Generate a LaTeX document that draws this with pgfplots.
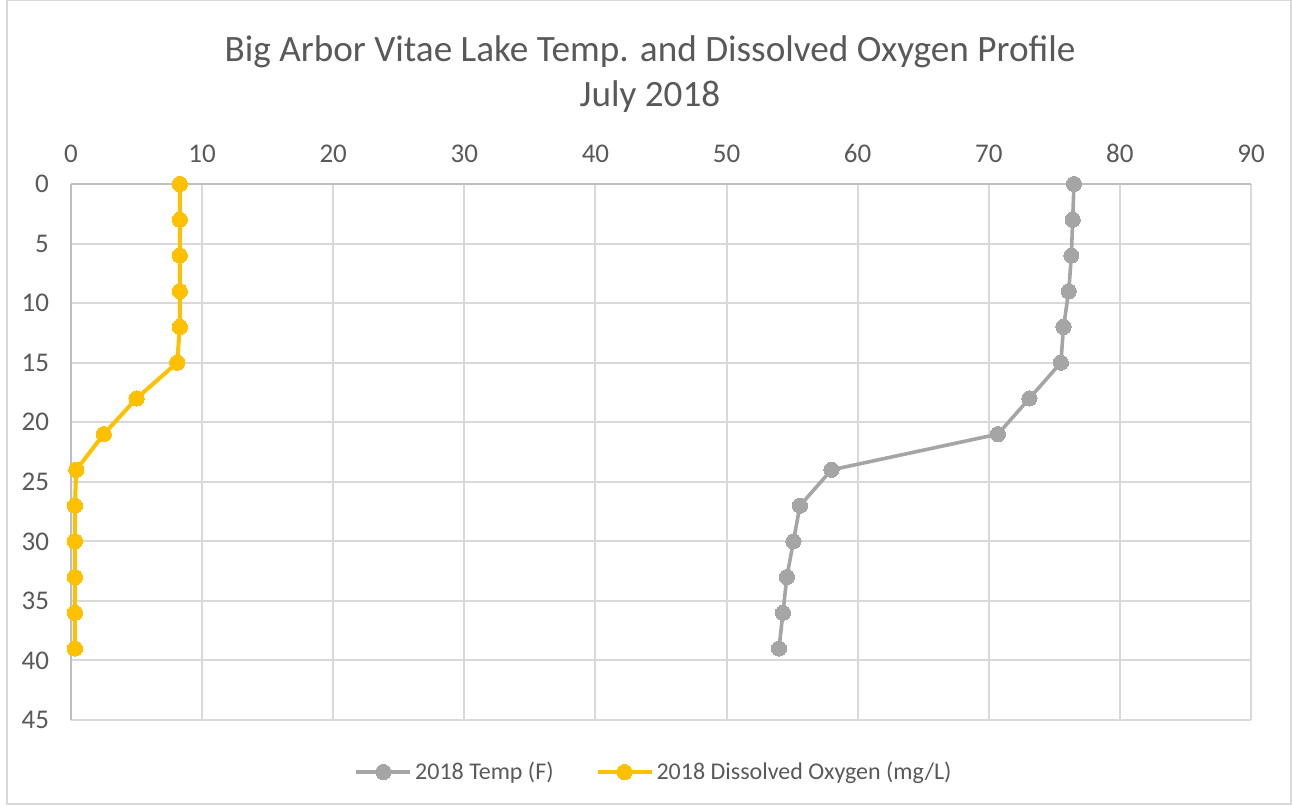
\documentclass[border=0pt]{standalone}
\usepackage{pgfplots}
\pgfplotsset{compat=1.18}
\usepackage{fontspec}
\setmainfont{Carlito}
\definecolor{txt}{HTML}{595959}
\definecolor{gridc}{HTML}{D9D9D9}
\definecolor{axc}{HTML}{BFBFBF}
\definecolor{tempc}{HTML}{A5A5A5}
\definecolor{doc}{HTML}{FFC000}
\begin{document}
\begin{tikzpicture}
\useasboundingbox (0,0) rectangle (646pt,402.5pt);
\draw[gridc, line width=0.6pt] (3.5pt,0.5pt) rectangle (645.5pt,402.5pt);
\node[text=txt, font=\fontsize{18.6}{22}\selectfont] at (325pt,376.5pt) {Big Arbor Vitae Lake Temp. and Dissolved Oxygen Profile};
\node[text=txt, font=\fontsize{18.6}{22}\selectfont] at (325pt,354pt) {July 2018};
\begin{axis}[
  at={(35.5pt,42.5pt)}, anchor=south west,
  scale only axis, width=590pt, height=268pt,
  xmin=0, xmax=90, ymin=0, ymax=45,
  y dir=reverse,
  xtick={0,10,...,90}, ytick={0,5,...,45},
  xticklabel pos=upper,
  major tick length=0pt,
  grid=major,
  major grid style={gridc, line width=1pt},
  axis line style={draw=none},
  tick label style={text=txt, font=\fontsize{13.5}{16}\selectfont},
  x tick label style={yshift=7pt},
  y tick label style={xshift=-7.5pt},
  /pgf/number format/assume math mode=true,
  legend columns=2,
  legend style={at={(0.4945,-0.097)}, anchor=center, draw=none, fill=none,
    font=\fontsize{12}{14}\selectfont, text=txt,
    nodes={inner sep=1.5pt},
    /tikz/every odd column/.append style={column sep=0pt},
    /tikz/every even column/.append style={column sep=19.5pt}},
  legend image code/.code={\draw[mark repeat=2,mark phase=2] plot coordinates {(0pt,0pt)(13.5pt,0pt)(27pt,0pt)};},
  clip=false,
]
\draw[axc, line width=1pt] (axis cs:0,0) -- (axis cs:90,0);
\draw[axc, line width=1pt] (axis cs:0,0) -- (axis cs:0,45);
\addplot[tempc, line width=1.8pt, mark=*, mark size=3.8pt, mark options={fill=tempc, draw=tempc, line width=0pt}] coordinates {
(76.5,0) (76.4,3) (76.3,6) (76.1,9) (75.7,12) (75.5,15) (73.1,18) (70.7,21) (58.0,24) (55.6,27) (55.1,30) (54.6,33) (54.3,36) (54.0,39)};
\addlegendentry{2018 Temp (F)}
\addplot[doc, line width=2pt, mark=*, mark size=3.8pt, mark options={fill=doc, draw=doc, line width=0pt}] coordinates {
(8.3,0) (8.3,3) (8.3,6) (8.3,9) (8.3,12) (8.1,15) (5.0,18) (2.5,21) (0.4,24) (0.3,27) (0.3,30) (0.3,33) (0.3,36) (0.3,39)};
\addlegendentry{2018 Dissolved Oxygen (mg/L)}
\end{axis}
\end{tikzpicture}
\end{document}
